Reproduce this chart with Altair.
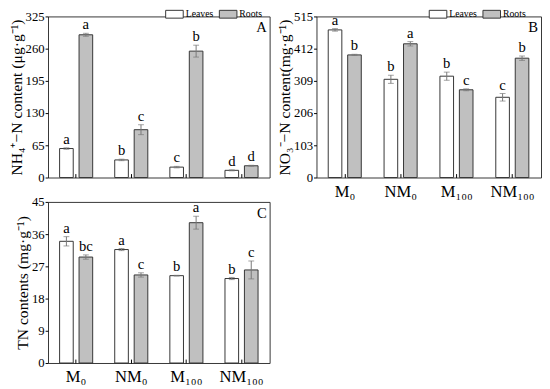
import altair as alt
import pandas as pd

groups = ["M₀", "NM₀", "M₁₀₀", "NM₁₀₀"]
parts = ["Leaves", "Roots"]

# Panel A: NH4+-N content (µg/g)
nh4_leaves = [58.5, 35.5, 21.0, 14.5]
nh4_leaves_err = [1.5, 1.5, 1.5, 1.0]
nh4_leaves_let = ["a", "b", "c", "d"]
nh4_roots = [288.0, 96.5, 255.0, 23.7]
nh4_roots_err = [3.0, 10.0, 12.0, 1.0]
nh4_roots_let = ["a", "c", "b", "d"]

# Panel B: NO3--N content (mg/g)
no3_leaves = [472.0, 314.0, 324.0, 256.5]
no3_leaves_err = [4.0, 13.0, 13.0, 12.0]
no3_leaves_let = ["a", "b", "b", "c"]
no3_roots = [392.0, 427.5, 280.5, 381.5]
no3_roots_err = [2.0, 7.0, 3.0, 7.0]
no3_roots_let = ["b", "a", "c", "b"]

# Panel C: TN contents (mg/g)
tn_leaves = [34.0, 31.7, 24.4, 23.6]
tn_leaves_err = [1.3, 0.3, 0.1, 0.3]
tn_leaves_let = ["a", "a", "b", "b"]
tn_roots = [29.6, 24.6, 39.2, 26.0]
tn_roots_err = [0.6, 0.6, 1.8, 2.5]
tn_roots_let = ["bc", "c", "a", "c"]

FONT = "Liberation Serif"
H = 165


def make_df(lv, le, ll, rv, re, rl):
    rows = []
    for i, g in enumerate(groups):
        rows.append(dict(group=g, part="Leaves", value=lv[i], err=le[i], letter=ll[i]))
        rows.append(dict(group=g, part="Roots", value=rv[i], err=re[i], letter=rl[i]))
    return pd.DataFrame(rows)


def panel(df, ymax, ticks, ytitle, tag, show_xlabels, legend_x, width):
    base = alt.Chart(df).transform_calculate(
        lo="datum.value - datum.err", hi="datum.value + datum.err"
    )
    x = alt.X(
        "group:N",
        sort=groups,
        scale=alt.Scale(paddingInner=0.4, paddingOuter=0.21),
        axis=alt.Axis(
            title=None, labels=show_xlabels, ticks=True, tickSize=4, offset=-4,
            domain=False, labelPadding=6, labelFontSize=17, labelFont=FONT,
            labelColor="black", tickColor="black", labelAngle=0, bandPosition=0.5,
        ),
    )
    xo = alt.XOffset("part:N", sort=parts,
                     scale=alt.Scale(paddingInner=0.3, paddingOuter=0))
    yscale = alt.Scale(domain=[0, ymax], nice=False)
    yaxis = alt.Axis(title=ytitle, values=ticks, format="d")
    if legend_x is None:
        leg = None
    else:
        leg = alt.Legend(
            orient="none", legendX=legend_x, legendY=-8, direction="horizontal",
            title=None, symbolType="M-1.8,-0.8L1.8,-0.8L1.8,0.8L-1.8,0.8Z",
            symbolSize=100, symbolStrokeColor="#333", symbolStrokeWidth=1,
            symbolOpacity=1, labelFont=FONT, labelFontSize=10, labelOffset=6,
            columnPadding=3, padding=0, labelColor="black",
        )
    color = alt.Color("part:N", sort=parts,
                      scale=alt.Scale(domain=parts, range=["#ffffff", "#c0c0c0"]),
                      legend=leg)
    bars = base.mark_bar(stroke="#333", strokeWidth=1, opacity=1).encode(
        x=x, xOffset=xo, y=alt.Y("value:Q", scale=yscale, axis=yaxis), color=color)
    rules = base.mark_rule(color="#777").encode(
        x=x, xOffset=xo, y=alt.Y("lo:Q", scale=yscale, axis=yaxis), y2="hi:Q")
    cap_hi = base.mark_tick(color="#777", size=6, thickness=1).encode(
        x=x, xOffset=xo, y=alt.Y("hi:Q", scale=yscale, axis=yaxis))
    cap_lo = base.mark_tick(color="#777", size=6, thickness=1).encode(
        x=x, xOffset=xo, y=alt.Y("lo:Q", scale=yscale, axis=yaxis))
    letters = base.mark_text(font=FONT, fontSize=15, baseline="bottom", dy=-1,
                             color="black").encode(
        x=x, xOffset=xo, y=alt.Y("hi:Q", scale=yscale, axis=yaxis), text="letter:N")
    label = alt.Chart(pd.DataFrame({"t": [tag]})).mark_text(
        font=FONT, fontSize=15, align="right", baseline="top", color="black"
    ).encode(x=alt.value(width - 3), y=alt.value(4), text="t:N")
    return alt.layer(bars, rules, cap_hi, cap_lo, letters, label).properties(
        width=width, height=H)


A = panel(make_df(nh4_leaves, nh4_leaves_err, nh4_leaves_let,
                  nh4_roots, nh4_roots_err, nh4_roots_let),
          325, [0, 65, 130, 195, 260, 325],
          "NH₄⁺−N content (μg·g⁻¹)", "A", False, 124, 227)
B = panel(make_df(no3_leaves, no3_leaves_err, no3_leaves_let,
                  no3_roots, no3_roots_err, no3_roots_let),
          515, [0, 103, 206, 309, 412, 515],
          "NO₃⁻−N content(mg·g⁻¹)", "B", True, 119, 230)
C = panel(make_df(tn_leaves, tn_leaves_err, tn_leaves_let,
                  tn_roots, tn_roots_err, tn_roots_let),
          45, [0, 9, 18, 27, 36, 45],
          "TN contents (mg·g⁻¹)", "C", True, None, 227)

chart = alt.vconcat(
    alt.hconcat(A, B, spacing=6).resolve_scale(color="independent"),
    C,
    spacing=-5,
).resolve_scale(color="independent").properties(
    padding={"left": 0, "top": -5, "right": 0, "bottom": 0}
).configure_view(
    stroke="#333", strokeWidth=1
).configure_axisY(
    labelFont=FONT, labelFontSize=13, titleFont=FONT, titleFontSize=16,
    titleFontWeight="normal", tickSize=3, labelPadding=1, titlePadding=1,
    domain=False, grid=False, tickColor="black", labelColor="black",
    titleColor="black",
).configure_axis(grid=False)

chart.save("out.html", embed_options={"renderer": "svg", "actions": False})
